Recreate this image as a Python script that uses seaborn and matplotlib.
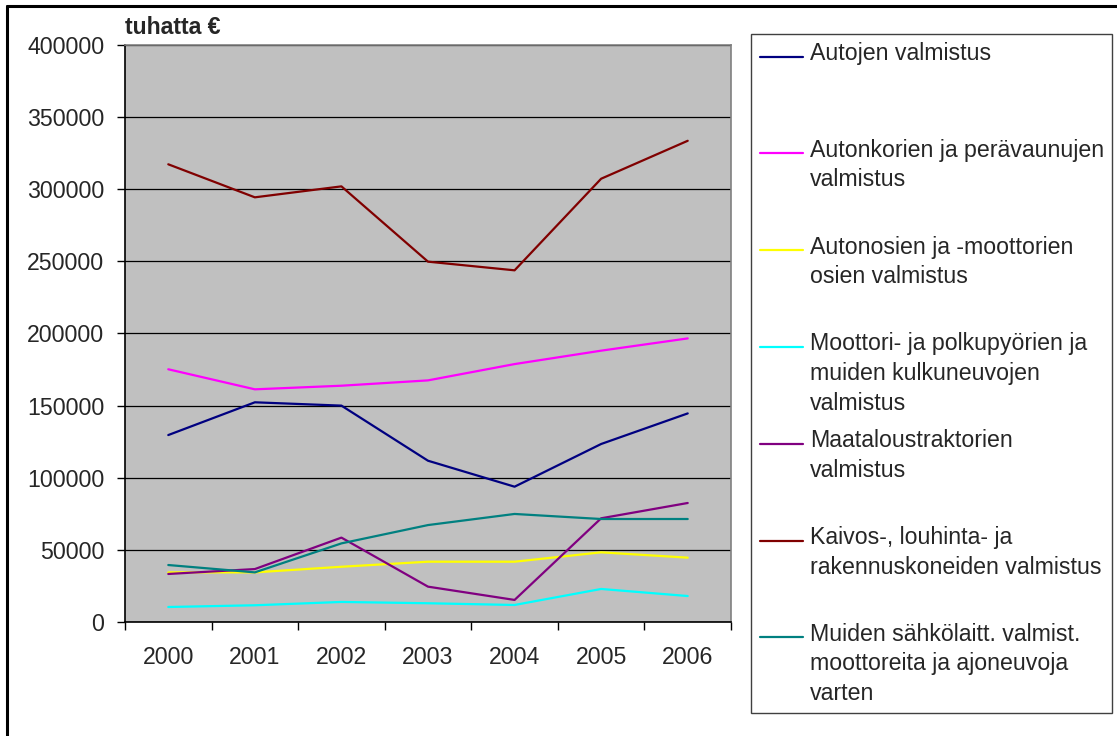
import pandas as pd
import matplotlib.pyplot as plt
import seaborn as sns
from matplotlib.lines import Line2D
from matplotlib.patches import Rectangle

# Values (thousand euro)
years = [2000, 2001, 2002, 2003, 2004, 2005, 2006]
autojen = [129600, 152300, 150000, 111800, 93800, 123400, 144600]
autonkorien = [175200, 161300, 163800, 167500, 178800, 188100, 196600]
autonosien = [34400, 34400, 38300, 41800, 41800, 48300, 44600]
moottori = [10400, 11600, 13900, 13000, 11800, 22900, 18000]
maatalous = [33300, 36700, 58500, 24500, 15300, 71900, 82500]
kaivos = [317300, 294400, 302000, 249800, 243800, 307300, 333600]
sahko = [39500, 34400, 54500, 67200, 74900, 71400, 71400]

series_names = [
    "Autojen valmistus",
    "Autonkorien ja perävaunujen\nvalmistus",
    "Autonosien ja -moottorien\nosien valmistus",
    "Moottori- ja polkupyörien ja\nmuiden kulkuneuvojen\nvalmistus",
    "Maataloustraktorien\nvalmistus",
    "Kaivos-, louhinta- ja\nrakennuskoneiden valmistus",
    "Muiden sähkölaitt. valmist.\nmoottoreita ja ajoneuvoja\nvarten",
]
series_values = [autojen, autonkorien, autonosien, moottori, maatalous, kaivos, sahko]
colors = ["#000080", "#FF00FF", "#FFFF00", "#00FFFF", "#800080", "#800000", "#008080"]

rows = []
for name, vals in zip(series_names, series_values):
    for yr, v in zip(years, vals):
        rows.append({"vuosi": yr, "arvo": v, "sarja": name})
df = pd.DataFrame(rows)

sns.set_style("white")
plt.rcParams["font.family"] = ["Liberation Sans", "DejaVu Sans"]
FS = 16.7

W, H = 1117, 736
fig = plt.figure(figsize=(W / 100, H / 100), dpi=100)

# outer chart border (only top and left visible in the crop)
fig.add_artist(Line2D([7 / W, 7 / W], [0, 1 - 6 / H], color="black", lw=2.2,
                      transform=fig.transFigure))
fig.add_artist(Line2D([7 / W, 1], [1 - 6 / H, 1 - 6 / H], color="black", lw=2.2,
                      transform=fig.transFigure))

ax = fig.add_axes([125 / W, 1 - 622 / H, (731 - 125) / W, (622 - 45) / H])
ax.set_facecolor("#C0C0C0")

sns.lineplot(data=df, x="vuosi", y="arvo", hue="sarja", hue_order=series_names,
             palette=dict(zip(series_names, colors)), sort=False, legend=False,
             linewidth=1.6, ax=ax, zorder=3)

ax.set_xlim(years[0] - 0.5, years[-1] + 0.5)
ax.set_ylim(0, 400000)
ax.set_yticks(range(0, 400001, 50000))
ax.set_yticklabels([str(v) for v in range(0, 400001, 50000)])
ax.set_xticks(years)
ax.set_xticklabels([str(y) for y in years])
ax.set_xticks([y - 0.5 for y in years] + [years[-1] + 0.5], minor=True)
ax.tick_params(axis="x", which="major", length=0, pad=17, labelsize=FS)
ax.tick_params(axis="x", which="minor", length=6, width=1, direction="out", color="black", bottom=True)
ax.tick_params(axis="y", length=6, width=1, direction="out", color="black", pad=9, labelsize=FS, left=True)
ax.set_xlabel("")
ax.set_ylabel("")
ax.grid(axis="y", color="black", linewidth=0.9)
ax.grid(axis="x", visible=False)
ax.set_axisbelow(True)
for side in ["left", "bottom"]:
    ax.spines[side].set_color("black")
    ax.spines[side].set_linewidth(1.2)
for side in ["top", "right"]:
    ax.spines[side].set_color("#808080")
    ax.spines[side].set_linewidth(1.2)

fig.text(125 / W, 1 - 28 / H, "tuhatta €", fontsize=FS, fontweight="bold",
         ha="left", va="center")

# legend box, drawn by hand to keep Excel-like spacing
lx0, ly0, lx1, ly1 = 751, 34, 1112, 713
fig.add_artist(Rectangle((lx0 / W, 1 - ly1 / H), (lx1 - lx0) / W, (ly1 - ly0) / H,
                         transform=fig.transFigure, facecolor="white",
                         edgecolor="#404040", lw=1.0))
first_y, step = 56.5, 96.8
for i, (name, col) in enumerate(zip(series_names, colors)):
    yy = first_y + i * step
    fig.add_artist(Line2D([760 / W, 803 / W], [1 - yy / H, 1 - yy / H], color=col,
                          lw=1.6, transform=fig.transFigure))
    fig.text(810 / W, 1 - (yy - 14.5) / H, name, fontsize=FS, ha="left", va="top",
             linespacing=1.37)

fig.savefig("out.png", dpi=100)
